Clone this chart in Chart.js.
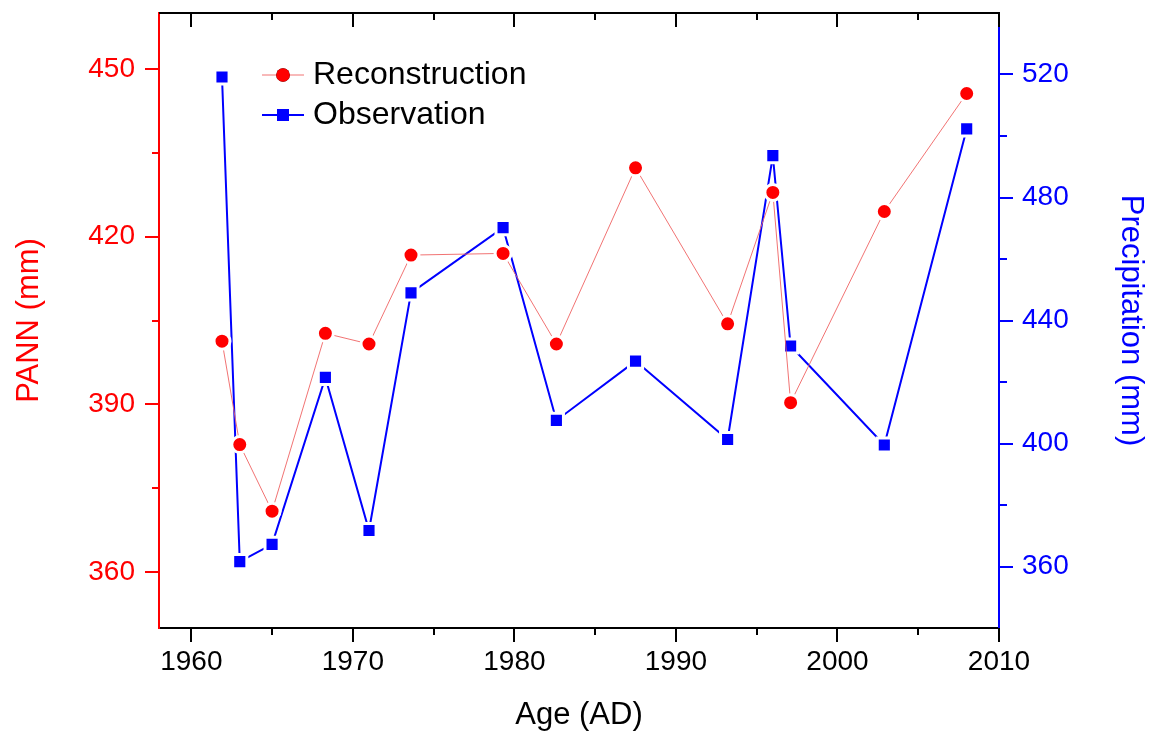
<!DOCTYPE html>
<html>
<head>
<meta charset="utf-8">
<script src="https://cdn.jsdelivr.net/npm/chart.js@4"></script>
<style>
  html, body { margin: 0; padding: 0; background: #fff; }
  canvas { display: block; }
</style>
</head>
<body>
<canvas id="myChart" width="1159" height="738"></canvas>
<script>
// data
const years = [1961.9, 1963.0, 1965.0, 1968.3, 1971.0, 1973.6, 1979.3, 1982.6, 1987.5, 1993.2, 1996.0, 1997.1, 2002.9, 2008.0];
const pann = [401.3, 382.8, 370.9, 402.7, 400.8, 416.7, 417.0, 400.8, 432.3, 404.4, 427.9, 390.3, 424.5, 445.6];
const precip = [519.2, 361.6, 367.2, 421.5, 371.7, 449.0, 470.2, 407.5, 426.8, 401.3, 493.6, 431.7, 399.5, 502.3];

// axis ticks
const yearTicks = [1960, 1970, 1980, 1990, 2000, 2010];
const yearMinor = [1965, 1975, 1985, 1995, 2005];
const pannTicks = [360, 390, 420, 450];
const pannMinor = [375, 405, 435];
const precipTicks = [360, 400, 440, 480, 520];
const precipMinor = [380, 420, 460, 500];

const FONT = "'Liberation Sans', Arial, sans-serif";
const RED = '#ff0000';
const BLUE = '#0000ff';

function setTicks(major, minor) {
  return function (scale) {
    scale.ticks = major.concat(minor).sort((a, b) => a - b).map(v => ({ value: v, major: major.includes(v) }));
  };
}
function label(major) {
  return v => major.includes(v) ? String(v) : '';
}
function fixSize(w, h) {
  return function (s) {
    if (w) s.width = w;
    if (h) s.height = h;
    s.paddingTop = 0; s.paddingBottom = 0;
    s.paddingLeft = 0; s.paddingRight = 0;
  };
}

// outward ticks + top frame with inward ticks, legend
const frame = {
  id: 'frame',
  afterDraw(chart) {
    const ctx = chart.ctx, a = chart.chartArea;
    const sx = chart.scales.x, sl = chart.scales.y, sr = chart.scales.y2;
    ctx.save();
    ctx.lineWidth = 2;
    ctx.lineCap = 'butt';

    ctx.strokeStyle = '#000';
    ctx.beginPath();
    ctx.moveTo(a.left, a.top);
    ctx.lineTo(a.right + 1, a.top);
    ctx.stroke();
    sx.ticks.forEach(t => {
      const p = Math.round(sx.getPixelForValue(t.value));
      const len = t.major ? 14 : 7;
      ctx.beginPath();
      ctx.moveTo(p, a.bottom); ctx.lineTo(p, a.bottom + len);
      ctx.moveTo(p, a.top); ctx.lineTo(p, a.top + len);
      ctx.stroke();
    });

    ctx.strokeStyle = RED;
    sl.ticks.forEach(t => {
      const p = Math.round(sl.getPixelForValue(t.value));
      const len = t.major ? 14 : 7;
      ctx.beginPath();
      ctx.moveTo(a.left, p); ctx.lineTo(a.left - len, p);
      ctx.stroke();
    });

    ctx.strokeStyle = BLUE;
    sr.ticks.forEach(t => {
      const p = Math.round(sr.getPixelForValue(t.value));
      const len = t.major ? 14 : 8;
      ctx.beginPath();
      ctx.moveTo(a.right, p); ctx.lineTo(a.right + len, p);
      ctx.stroke();
    });

    // legend
    const items = [
      { text: 'Reconstruction', ds: chart.data.datasets[0], y: a.top + 62 },
      { text: 'Observation', ds: chart.data.datasets[1], y: a.top + 102 }
    ];
    const lx = a.left + 103;
    items.forEach(it => {
      ctx.strokeStyle = it.ds.borderColor;
      ctx.lineWidth = it.ds.borderWidth;
      ctx.beginPath();
      ctx.moveTo(lx, it.y); ctx.lineTo(lx + 42, it.y);
      ctx.stroke();
      Chart.helpers.drawPoint(ctx, {
        pointStyle: it.ds.pointStyle,
        radius: it.ds.pointStyle === 'rect' ? 8.5 : 6.8,
        borderWidth: 0
      }, lx + 21, it.y);
      ctx.fillStyle = it.ds.pointBackgroundColor;
      ctx.fill();
      ctx.fillStyle = '#000';
      ctx.font = '32px ' + FONT;
      ctx.textBaseline = 'middle';
      ctx.textAlign = 'left';
      ctx.fillText(it.text, lx + 51, it.y);
    });
    ctx.restore();
  }
};

new Chart(document.getElementById('myChart').getContext('2d'), {
  type: 'line',
  data: {
    datasets: [
      {
        label: 'Reconstruction',
        data: years.map((x, i) => ({ x, y: pann[i] })),
        yAxisID: 'y',
        borderColor: 'rgba(240,100,100,0.9)',
        borderWidth: 1,
        pointStyle: 'circle',
        pointRadius: 8,
        pointBackgroundColor: RED,
        pointBorderColor: '#fff',
        pointBorderWidth: 3,
        tension: 0
      },
      {
        label: 'Observation',
        data: years.map((x, i) => ({ x, y: precip[i] })),
        yAxisID: 'y2',
        borderColor: BLUE,
        borderWidth: 2,
        pointStyle: 'rect',
        pointRadius: 10,
        pointBackgroundColor: BLUE,
        pointBorderColor: '#fff',
        pointBorderWidth: 3,
        tension: 0
      }
    ]
  },
  options: {
    responsive: false,
    devicePixelRatio: 1,
    animation: false,
    layout: { padding: { top: 9, left: 0, right: 0, bottom: 0 } },
    plugins: { legend: { display: false }, tooltip: { enabled: false } },
    events: [],
    scales: {
      x: {
        type: 'linear',
        min: 1958,
        max: 2010,
        afterBuildTicks: setTicks(yearTicks, yearMinor),
        afterFit: fixSize(0, 110),
        grid: { drawOnChartArea: false, drawTicks: false },
        border: { color: '#000', width: 2 },
        ticks: {
          autoSkip: false, maxRotation: 0, padding: 17, color: '#000',
          font: { family: FONT, size: 28 },
          callback: label(yearTicks)
        },
        title: { display: true, text: 'Age (AD)', color: '#000', font: { family: FONT, size: 31 }, padding: { bottom: 4 } }
      },
      y: {
        position: 'left',
        min: 350,
        max: 460,
        afterBuildTicks: setTicks(pannTicks, pannMinor),
        afterFit: fixSize(159, 0),
        grid: { drawOnChartArea: false, drawTicks: false },
        border: { color: RED, width: 2 },
        ticks: {
          autoSkip: false, padding: 24, color: RED,
          font: { family: FONT, size: 28 },
          callback: label(pannTicks)
        },
        title: { display: true, text: 'PANN (mm)', color: RED, font: { family: FONT, size: 31 }, padding: { top: 11 } }
      },
      y2: {
        position: 'right',
        min: 340,
        max: 540,
        afterBuildTicks: setTicks(precipTicks, precipMinor),
        afterFit: fixSize(160, 0),
        grid: { drawOnChartArea: false, drawTicks: false },
        border: { color: BLUE, width: 2 },
        ticks: {
          autoSkip: false, padding: 23, color: BLUE,
          font: { family: FONT, size: 28 },
          callback: label(precipTicks)
        },
        title: { display: true, text: 'Precipitation (mm)', color: BLUE, font: { family: FONT, size: 31 }, padding: { top: 10 } }
      }
    }
  },
  plugins: [frame]
});
</script>
</body>
</html>
